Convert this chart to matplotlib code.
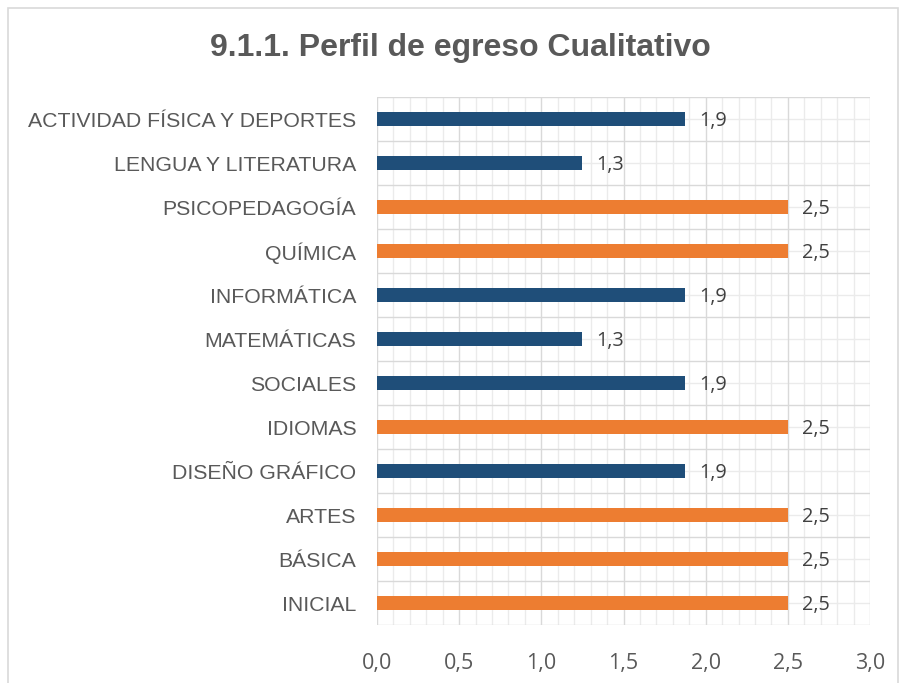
import numpy as np
import matplotlib.pyplot as plt
from matplotlib.patches import Rectangle
from decimal import Decimal, ROUND_HALF_UP

# data, bottom to top
categories = ["INICIAL", "BÁSICA", "ARTES", "DISEÑO GRÁFICO", "IDIOMAS",
              "SOCIALES", "MATEMÁTICAS", "INFORMÁTICA", "QUÍMICA",
              "PSICOPEDAGOGÍA", "LENGUA Y LITERATURA",
              "ACTIVIDAD FÍSICA Y DEPORTES"]
values = [2.5, 2.5, 2.5, 1.875, 2.5, 1.875, 1.25, 1.875, 2.5, 2.5, 1.25, 1.875]
x_ticks = [0.0, 0.5, 1.0, 1.5, 2.0, 2.5, 3.0]

BLUE = "#1F4E79"
ORANGE = "#ED7D31"
TEXT = "#595959"


def fmt(v):
    """one decimal, half-up, comma separator (Excel style)"""
    d = Decimal(str(v)).quantize(Decimal("0.1"), rounding=ROUND_HALF_UP)
    return str(d).replace(".", ",")


plt.rcParams["font.family"] = ["Liberation Sans", "DejaVu Sans"]

fig = plt.figure(figsize=(9.06, 6.83), dpi=100)
ax = fig.add_axes([0.4161, 0.0849, 0.5442, 0.773])

# chart frame
fig.patches.append(Rectangle((8 / 906, -0.05), 890 / 906, 1.05 - 8 / 683,
                             transform=fig.transFigure, fill=False,
                             edgecolor="#D9D9D9", linewidth=1.2))

y = np.arange(len(categories))
colors = [ORANGE if v >= 2.5 else BLUE for v in values]
ax.barh(y, values, height=0.31, color=colors, zorder=3)

for yi, v in zip(y, values):
    ax.annotate(fmt(v), (v, yi), xytext=(10, -1.5), textcoords="offset points",
                ha="left", va="center", fontsize=14.3, color="#404040",
                family=["Open Sans", "DejaVu Sans"])

ax.set_xlim(0, 3.0)
ax.set_ylim(-0.5, len(categories) - 0.5)
ax.set_xticks(x_ticks)
ax.set_xticklabels([fmt(t) for t in x_ticks], family=["Open Sans", "DejaVu Sans"],
                   fontsize=15.5)
ax.set_yticks(y)
ax.set_yticklabels(categories, fontsize=15.3)

# grid: vertical major/minor, horizontal lines at boundaries and centres
for xv in np.arange(0, 3.0001, 0.1):
    major = abs(xv * 2 - round(xv * 2)) < 1e-6
    ax.axvline(xv, color="#D9D9D9" if major else "#EBEBEB",
               linewidth=1.0, zorder=1 if major else 0)
for yb in np.arange(-0.5, len(categories), 1.0):
    ax.axhline(yb, color="#D9D9D9", linewidth=1.0, zorder=1)
for yc in y:
    ax.axhline(yc, color="#EBEBEB", linewidth=1.0, zorder=0)

for s in ax.spines.values():
    s.set_visible(False)

ax.tick_params(axis="both", which="both", length=0, colors=TEXT)
ax.tick_params(axis="y", pad=15)
ax.tick_params(axis="x", pad=20)

fig.text(460 / 906, 1 - 56 / 683, "9.1.1. Perfil de egreso Cualitativo",
         ha="center", va="baseline", fontsize=23, fontweight="bold", color=TEXT)

fig.savefig("out.png", dpi=100)
